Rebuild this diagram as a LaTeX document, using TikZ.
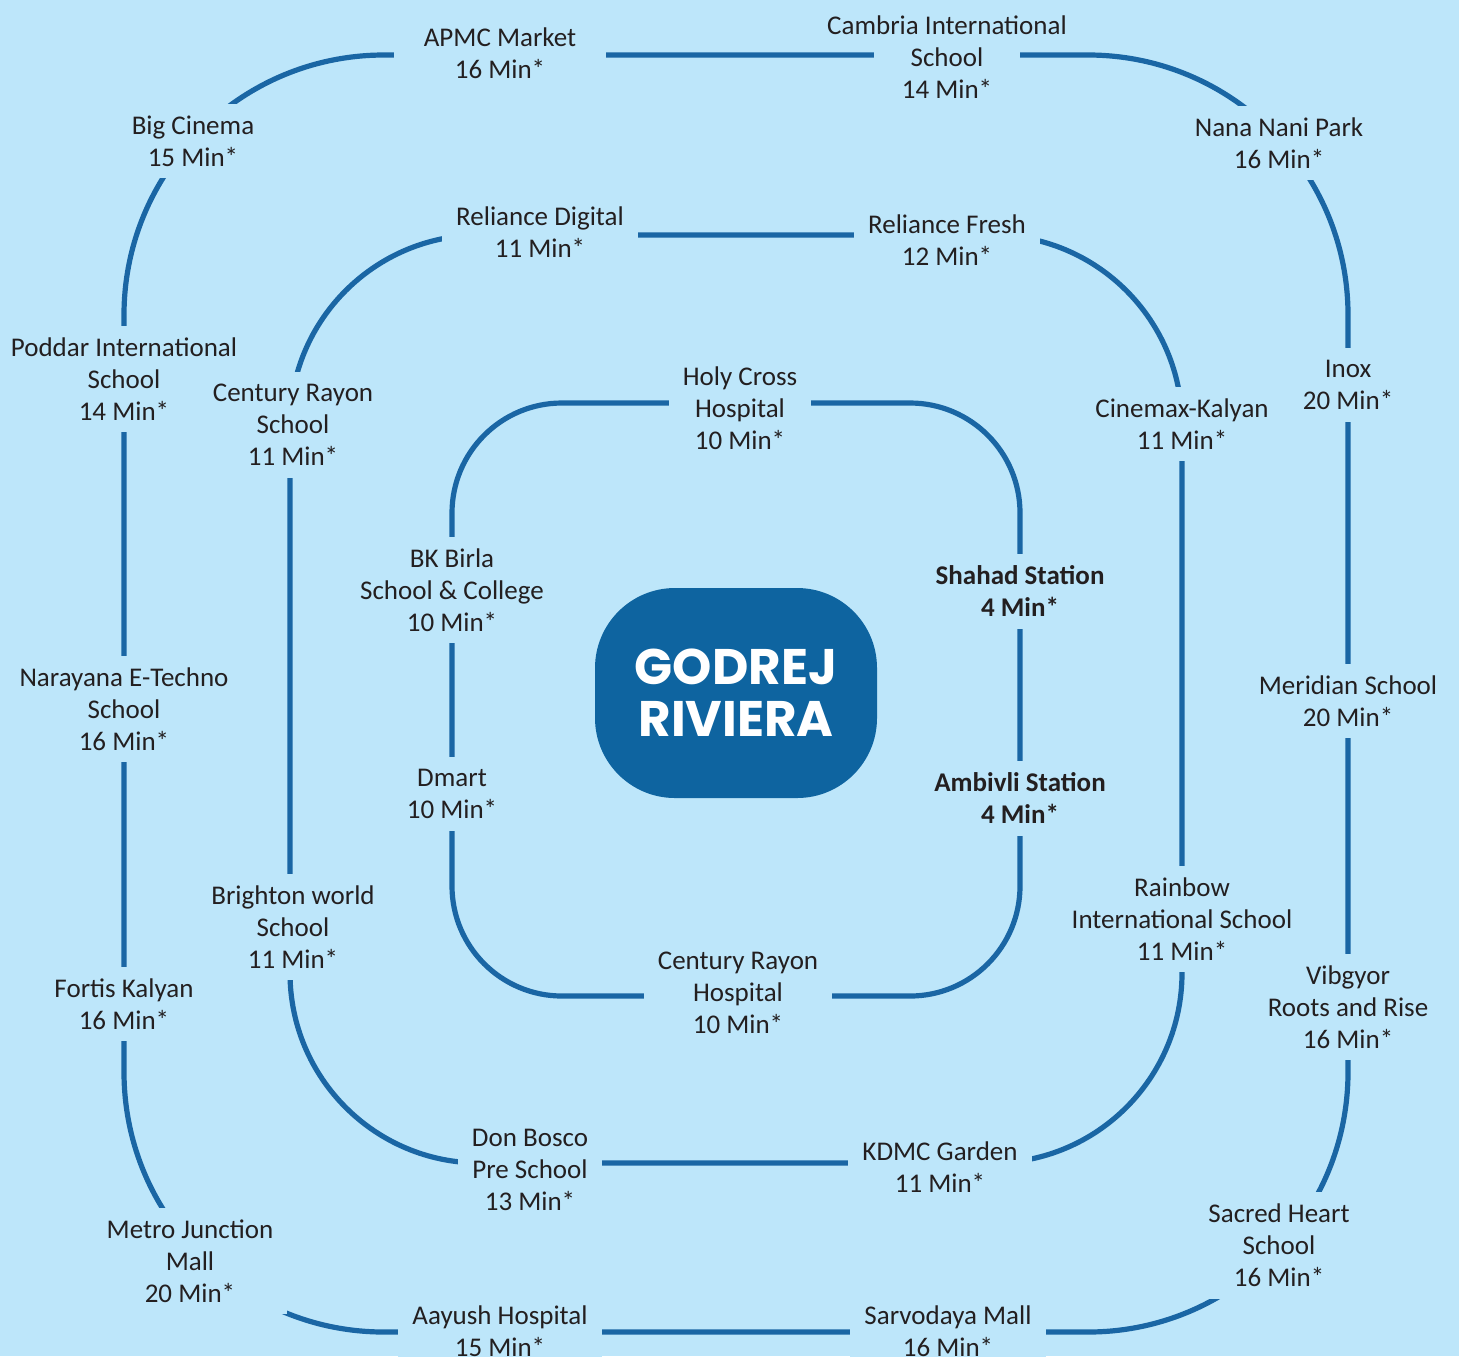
\documentclass[tikz,border=0pt]{standalone}
\usepackage{fontspec}
\setmainfont{Carlito}
\newfontfamily\titlefont{Poppins}
\definecolor{bgc}{HTML}{BDE6FA}
\definecolor{linec}{HTML}{1A66A4}
\definecolor{boxc}{HTML}{0E64A0}
\definecolor{txtc}{HTML}{231F20}
\tikzset{
  loopline/.style={draw=linec, line width=2.6pt},
  lbl/.style={fill=bgc, text=txtc, align=center, inner xsep=7pt, inner ysep=6pt,
    font=\fontsize{13.5pt}{16pt}\selectfont},
  blbl/.style={lbl, font=\fontsize{13.5pt}{16pt}\selectfont\bfseries},
}
\begin{document}
\begin{tikzpicture}[x=0.5pt,y=-0.5pt]
\fill[bgc] (0,0) rectangle (1459,1356);
\useasboundingbox (0,0) rectangle (1459,1356);
% loops
\draw[loopline, rounded corners=130pt] (124,55) rectangle (1348,1332);
\draw[loopline, rounded corners=95pt] (290,235) rectangle (1182,1163);
\draw[loopline, rounded corners=55pt] (452,403) rectangle (1020,996);
% centre
\node[fill=boxc, rounded corners=40pt, minimum width=141pt, minimum height=105pt, inner sep=0pt,
  text=white, align=center, font=\titlefont\bfseries\fontsize{25pt}{26pt}\selectfont] (godrej) at (736,693) {GODREJ\\RIVIERA};
% outer labels
\node[lbl, inner xsep=15pt] (apmc) at (500,53) {APMC Market\\16 Min*};
\node[fill=bgc, minimum width=73pt, minimum height=14pt, inner sep=0pt] (cambriamask) at (946.5,55) {};
\node[lbl, fill=none] (cambria) at (947,57) {Cambria International\\School\\14 Min*};
\node[lbl] (bigcinema) at (193,141) {Big Cinema\\15 Min*};
\node[lbl] (nananipark) at (1279,143) {Nana Nani Park\\16 Min*};
\node[lbl] (poddar) at (124,379) {Poddar International\\School\\14 Min*};
\node[lbl] (inox) at (1348,385) {Inox\\20 Min*};
\node[lbl] (narayana) at (124,709) {Narayana E-Techno\\School\\16 Min*};
\node[lbl] (meridian) at (1348,701) {Meridian School\\20 Min*};
\node[lbl] (fortis) at (124,1004) {Fortis Kalyan\\16 Min*};
\node[lbl] (vibgyor) at (1348,1007) {Vibgyor\\Roots and Rise\\16 Min*};
\node[lbl] (metro) at (190,1261) {Metro Junction\\Mall\\20 Min*};
\node[lbl] (sacred) at (1279,1245) {Sacred Heart\\School\\16 Min*};
\node[lbl] (aayush) at (500,1331) {Aayush Hospital\\15 Min*};
\node[lbl] (sarvodaya) at (948,1331) {Sarvodaya Mall\\16 Min*};
% middle labels
\node[lbl] (reldig) at (540,232) {Reliance Digital\\11 Min*};
\node[lbl] (relfresh) at (947,240) {Reliance Fresh\\12 Min*};
\node[lbl] (crschool) at (293,425) {Century Rayon\\School\\11 Min*};
\node[lbl] (cinemax) at (1182,424) {Cinemax-Kalyan\\11 Min*};
\node[lbl] (brighton) at (293,927) {Brighton world\\School\\11 Min*};
\node[lbl] (rainbow) at (1182,919) {Rainbow\\International School\\11 Min*};
\node[lbl] (donbosco) at (530,1170) {Don Bosco\\Pre School\\13 Min*};
\node[lbl] (kdmc) at (940,1167) {KDMC Garden\\11 Min*};
% inner labels
\node[lbl] (holycross) at (740,408) {Holy Cross\\Hospital\\10 Min*};
\node[lbl] (bkbirla) at (452,590) {BK Birla\\School \& College\\10 Min*};
\node[lbl] (dmart) at (452,794) {Dmart\\10 Min*};
\node[lbl] (crhosp) at (738,993) {Century Rayon\\Hospital\\10 Min*};
\node[blbl] (shahad) at (1020,591) {Shahad Station\\4 Min*};
\node[blbl] (ambivli) at (1020,798) {Ambivli Station\\4 Min*};
\end{tikzpicture}
\end{document}
